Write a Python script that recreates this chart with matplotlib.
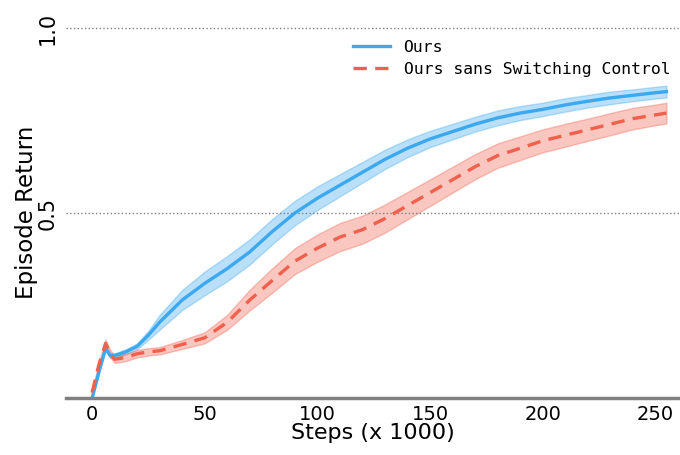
import matplotlib.pyplot as plt
import numpy as np

steps = [0, 3, 6, 8, 10, 15, 20, 25, 30, 40, 50, 60, 70, 80, 90, 100, 110, 120,
         130, 140, 150, 160, 170, 180, 190, 200, 210, 220, 230, 240, 250, 255]

ours = [0.0, 0.07, 0.135, 0.115, 0.115, 0.125, 0.14, 0.17, 0.205, 0.265, 0.31,
        0.35, 0.395, 0.45, 0.50, 0.54, 0.575, 0.61, 0.645, 0.675, 0.70, 0.72,
        0.74, 0.757, 0.77, 0.78, 0.792, 0.802, 0.811, 0.818, 0.825, 0.828]
ours_err = [0.0, 0.004, 0.006, 0.006, 0.006, 0.007, 0.008, 0.012, 0.02, 0.027,
            0.032, 0.034, 0.034, 0.034, 0.033, 0.032, 0.03, 0.028, 0.026, 0.024,
            0.022, 0.021, 0.02, 0.02, 0.019, 0.018, 0.018, 0.017, 0.017, 0.016,
            0.016, 0.016]

sans = [0.015, 0.09, 0.148, 0.12, 0.105, 0.11, 0.12, 0.125, 0.128, 0.145, 0.163,
        0.205, 0.265, 0.318, 0.37, 0.405, 0.435, 0.455, 0.485, 0.52, 0.555, 0.59,
        0.625, 0.655, 0.675, 0.695, 0.71, 0.725, 0.74, 0.755, 0.765, 0.77]
sans_err = [0.004, 0.008, 0.01, 0.01, 0.01, 0.01, 0.01, 0.01, 0.01, 0.012, 0.015,
            0.02, 0.028, 0.033, 0.035, 0.037, 0.038, 0.038, 0.038, 0.037, 0.036,
            0.035, 0.034, 0.033, 0.032, 0.031, 0.031, 0.03, 0.03, 0.029, 0.028,
            0.028]

labels = ['Ours', 'Ours sans Switching Control']
BLUE = '#3BA8F0'
RED = '#F0604D'

fig = plt.figure(figsize=(6.8, 4.55), dpi=100)
ax = fig.add_axes([0.097, 0.125, 0.903, 0.816])

x = np.array(steps)
for y, e, c, ls, lab in [(ours, ours_err, BLUE, '-', labels[0]),
                         (sans, sans_err, RED, '--', labels[1])]:
    y = np.array(y)
    e = np.array(e)
    ax.fill_between(x, y - e, y + e, color=c, alpha=0.35, linewidth=1)
    ax.plot(x, y, color=c, linestyle=ls, linewidth=2.4, label=lab,
            dashes=(4, 2.5) if ls == '--' else (None, None))

ax.set_xlim(-11.6, 261)
ax.set_ylim(0, 1.003)
ax.set_xticks([0, 50, 100, 150, 200, 250])
ax.set_yticks([0.5, 1.0])
ax.set_yticklabels(['0.5', '1.0'], rotation=90, va='center')
ax.tick_params(length=0, labelsize=14, pad=5)
ax.tick_params(axis='y', labelsize=15, pad=6)
ax.yaxis.grid(True, linestyle=':', color='gray', linewidth=1)
for s in ['top', 'right', 'left']:
    ax.spines[s].set_visible(False)
ax.spines['bottom'].set_color('gray')
ax.spines['bottom'].set_linewidth(2.5)

ax.set_xlabel('Steps (x 1000)', fontsize=16, labelpad=-1)
ax.set_ylabel('Episode Return', fontsize=16.5, labelpad=0)

ax.legend(loc='upper right', bbox_to_anchor=(1.008, 1.005), frameon=False,
          prop={'family': 'DejaVu Sans Mono', 'size': 11.8}, handlelength=2.3,
          labelspacing=0.45)

fig.savefig('out.png', dpi=100)
